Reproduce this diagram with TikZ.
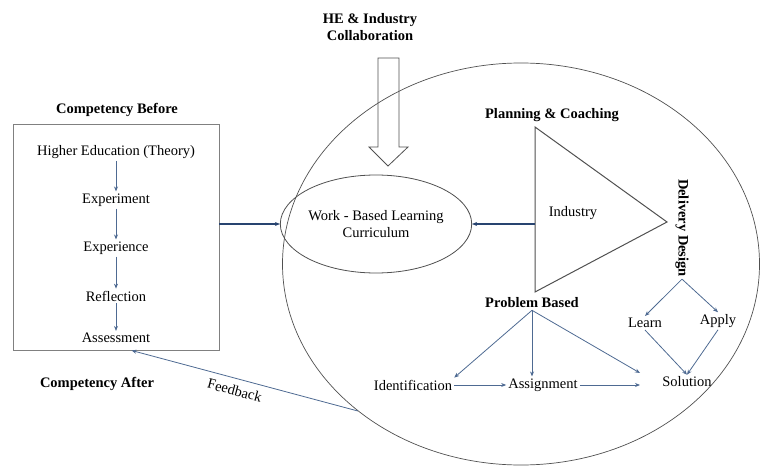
\documentclass[tikz,border=0pt]{standalone}
\usepackage{fontspec}
\setmainfont{Liberation Serif}
\usetikzlibrary{shapes.geometric,arrows.meta,calc}

\definecolor{flowblue}{RGB}{78,106,146}
\definecolor{linkblue}{RGB}{40,68,112}
\definecolor{edgegray}{RGB}{80,80,80}

\tikzset{
  txt/.style={inner sep=2pt},
  head/.style={inner sep=2pt,font=\fontsize{14.5}{17}\selectfont\bfseries},
  flow/.style={->,draw=flowblue,line width=0.8pt},
  link/.style={->,draw=linkblue,line width=2pt},
}

\begin{document}
\begin{tikzpicture}[x=1pt,y=-1pt,>={Stealth[length=5pt,width=4pt]},
    font=\fontsize{14.5}{17}\selectfont]
            \useasboundingbox (0,0) rectangle (762,468);

            \coordinate (TA) at (535,127);
            \coordinate (TB) at (535,292);
            \coordinate (TC) at (667,222);
            \coordinate (PBEND) at (640,373);

            % work-based learning area
            \node[draw=edgegray,ellipse,line width=0.7pt,minimum width=477,minimum height=402] (BIG) at (521,264) { };

            % competency before
            \node[head] (BEFORE) at (117,110) { Competency Before };
            \node[draw=gray,line width=0.9pt,minimum width=206,minimum height=226] (BOX) at (116,237) { };
            \node[txt] (HEDU) at (116,152) { Higher Education (Theory) };
            \node[txt] (EXPM) at (116,200) { Experiment };
            \node[txt] (EXPC) at (116,248) { Experience };
            \node[txt] (REFL) at (116,296) { Reflection };
            \node[txt] (ASSM) at (116,338) { Assessment };
            \node[head] (AFTER) at (97,384) { Competency After };

            \draw[flow] (HEDU) -- (EXPM);
            \draw[flow] (EXPM) -- (EXPC);
            \draw[flow] (EXPC) -- (REFL);
            \draw[flow] (REFL) -- (ASSM);

            % collaboration
            \node[head,align=center] (COLLAB) at (370,27) { HE \& Industry\\Collaboration };
            \draw[edgegray,line width=0.8pt] (378,58) -- (378,147) -- (369,147) -- (388,166)
                -- (408,147) -- (399,147) -- (399,58) -- cycle;

            \node[draw=edgegray,ellipse,line width=0.8pt,minimum width=177,minimum height=98,align=center,inner sep=0pt] (WBL) at (376,224) { Work - Based Learning\\Curriculum };

            % industry
            \draw[edgegray,line width=1pt] (TA) -- (TC) -- (TB) -- cycle;
            \node[head] (PLAN) at (552,115) { Planning \& Coaching };
            \node[txt] (IND) at (573,213) { Industry };

            \draw[link] (BOX.east |- WBL.west) -- (WBL.west);
            \draw[link] (TA |- WBL.east) -- (WBL.east);

            % delivery design
            \node[head,rotate=-90] (DELIV) at (682,228) { Delivery Design };
            \node[txt] (LEARN) at (645,323) { Learn };
            \node[txt] (APPLY) at (718,321) { Apply };
            \node[txt] (SOL) at (687,382) { Solution };

            \draw[flow] (DELIV.east) -- (LEARN.north);
            \draw[flow] (DELIV.east) -- (APPLY.north);
            \draw[flow] (LEARN.south) -- (SOL.north);
            \draw[flow] (APPLY.south) -- (SOL.north);

            % problem based
            \node[head] (PB) at (532,303) { Problem Based };
            \node[txt] (IDEN) at (413,385) { Identification };
            \node[txt] (ASSG) at (543,385) { Assignment };

            \draw[flow] (PB.south) -- (IDEN.north east);
            \draw[flow] (PB.south) -- (PB.south |- ASSG.north);
            \draw[flow] (PB.south) -- (PBEND);
            \draw[flow] (IDEN) -- (ASSG);
            \draw[flow] (ASSG.east) -- (ASSG.east -| PBEND);

            % feedback
            \draw[flow,<-] ($(BOX.south west)!0.575!(BOX.south east)$) -- node[sloped,below=3pt,pos=0.47] { Feedback } (BIG.222);

        \end{tikzpicture}
\end{document}
